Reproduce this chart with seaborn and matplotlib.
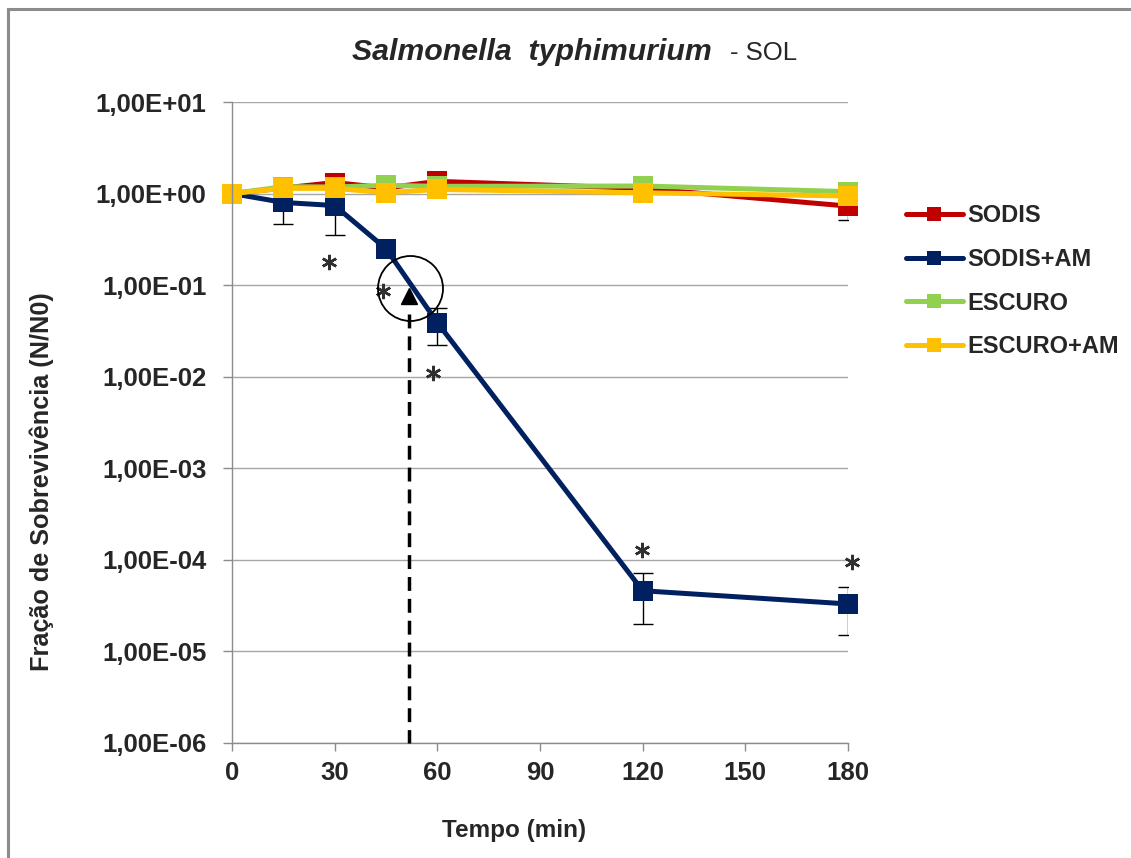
import numpy as np
import pandas as pd
import matplotlib
matplotlib.use("Agg")
import matplotlib.pyplot as plt
import seaborn as sns
from matplotlib.lines import Line2D
from matplotlib.patches import Rectangle
from matplotlib.ticker import FixedLocator, FixedFormatter, NullLocator

# ---------------- data ----------------
tempo = [0, 15, 30, 45, 60, 120, 180]
series = ["SODIS", "SODIS+AM", "ESCURO", "ESCURO+AM"]
sodis = [1.0, 1.15, 1.32, 1.15, 1.36, 1.14, 0.73]
sodis_err = [0, 0, 0, 0, 0, 0, 0.22]
sodis_am = [1.0, 0.80, 0.74, 0.25, 0.039, 4.6e-5, 3.3e-5]
sodis_am_err = [0, 0.33, 0.39, 0, 0.017, 2.6e-5, 1.8e-5]
escuro = [1.0, 1.19, 1.18, 1.23, 1.2, 1.21, 1.05]
escuro_am = [1.0, 1.14, 1.14, 1.02, 1.11, 1.02, 0.94]
colors = ["#C00000", "#002060", "#92D050", "#FFC000"]

ytick_vals = [1e1, 1e0, 1e-1, 1e-2, 1e-3, 1e-4, 1e-5, 1e-6]
ytick_labels = ["1,00E+01", "1,00E+00", "1,00E-01", "1,00E-02",
                "1,00E-03", "1,00E-04", "1,00E-05", "1,00E-06"]
xtick_vals = [0, 30, 60, 90, 120, 150, 180]

# significance asterisks
ast_x = [28.3, 44.1, 58.7, 119.8, 181.2]
ast_y = [0.177, 0.0853, 0.0109, 1.28e-4, 9.46e-5]
# highlighted point (triangle, circle, dashed drop line)
tri_x, tri_y = 51.8, 0.077
circ_x, circ_y = 52.0, 0.092
drop_x, drop_top = 51.8, 0.049

# ---------------- figure ----------------
sns.set_theme(style="white")
plt.rcParams["font.family"] = ["Liberation Sans", "DejaVu Sans"]

W, H = 1131, 858
fig = plt.figure(figsize=(W / 100, H / 100), dpi=100)
fig.patch.set_facecolor("white")
ax = fig.add_axes([232 / W, 1 - 743 / H, 616 / W, 641 / H])

vals = [sodis, sodis_am, escuro, escuro_am]
df = pd.DataFrame({
    "Tempo": np.tile(tempo, len(series)),
    "Valor": np.concatenate([np.asarray(v, float) for v in vals]),
    "Serie": np.repeat(series, len(tempo)),
})

# error bars (behind lines)
for v, e in [(sodis, sodis_err), (sodis_am, sodis_am_err)]:
    idx = [i for i, ee in enumerate(e) if ee > 0]
    ax.errorbar([tempo[i] for i in idx], [v[i] for i in idx],
                yerr=[e[i] for i in idx], fmt="none", ecolor="black",
                elinewidth=1.0, capsize=7, capthick=1.0, zorder=1.5)

sns.lineplot(data=df, x="Tempo", y="Valor", hue="Serie", hue_order=series,
             palette=colors, style="Serie", style_order=series,
             markers={s: "s" for s in series}, dashes=False,
             linewidth=3.6, markersize=15, markeredgewidth=0,
             legend=False, ax=ax, clip_on=False, zorder=2)

ax.set_yscale("log")
ax.set_ylim(1e-6, 1e1)
ax.set_xlim(0, 180)
ax.yaxis.set_major_locator(FixedLocator(ytick_vals))
ax.yaxis.set_major_formatter(FixedFormatter(ytick_labels))
ax.yaxis.set_minor_locator(NullLocator())
ax.set_xticks(xtick_vals)
ax.set_xticklabels([str(x) for x in xtick_vals])

ax.grid(axis="y", color="#A6A6A6", linewidth=1.0)
ax.grid(axis="x", visible=False)
ax.set_axisbelow(True)
for s in ["top", "right"]:
    ax.spines[s].set_visible(False)
for s in ["left", "bottom"]:
    ax.spines[s].set_color("#8C8C8C")
    ax.spines[s].set_linewidth(1.0)

ax.tick_params(axis="x", direction="out", length=6, width=1, color="#8C8C8C",
               labelsize=18.5, pad=7, bottom=True)
ax.tick_params(axis="y", direction="out", length=6.5, width=1, color="#8C8C8C",
               labelsize=18.5, pad=12, left=True)
for lab in ax.get_xticklabels() + ax.get_yticklabels():
    lab.set_fontweight("bold")
ax.set_xlabel("")
ax.set_ylabel("")

# annotations
ax.plot(ast_x, ast_y, ls="none", marker=(6, 2, 0), ms=11, mew=1.8,
        color="#303030", clip_on=False, zorder=4)
ax.plot([drop_x, drop_x], [drop_top, 1e-6], color="black", lw=2.5,
        ls=(0, (4, 2.3)), zorder=3, clip_on=False)
ax.plot([tri_x], [tri_y], marker="^", ms=11, color="black", ls="none", zorder=5)
ax.plot([circ_x], [circ_y], marker="o", ms=46.8, mfc="none", mec="black",
        mew=1.3, ls="none", zorder=5)

# axis titles
fig.text(514 / W, 1 - 830 / H, "Tempo (min)", ha="center", va="center",
         fontsize=17.5, fontweight="bold")
fig.text(42 / W, 1 - 482 / H, "Fração de Sobrevivência (N/N0)", ha="center",
         va="center", rotation=90, fontsize=18.2, fontweight="bold")

# title (two parts)
t1 = fig.text(352 / W, 1 - 52 / H, "Salmonella  typhimurium", ha="left",
              va="center", fontsize=21.8, fontweight="bold", fontstyle="italic")
renderer = fig.canvas.get_renderer()
bb = t1.get_window_extent(renderer=renderer)
fig.text((bb.x1 + 18) / W, 1 - 53 / H, "- SOL", ha="left", va="center",
         fontsize=18.5)

# legend
handles = [Line2D([0], [0], color=c, lw=3.6, marker="s", ms=10, mew=0)
           for c in colors]
fig.legend(handles, series, loc="upper left",
           bbox_to_anchor=(906 / W, 1 - 204 / H), frameon=False,
           prop={"size": 17, "weight": "bold"}, handlelength=2.4,
           handletextpad=0.2, labelspacing=0.88, borderpad=0,
           borderaxespad=0)

# chart border
fig.patches.append(Rectangle((8 / W, -0.5), 2, 1.5 - 9 / H,
                             transform=fig.transFigure, fill=False,
                             ec="#8C8C8C", lw=2.2))

fig.savefig("out.png", dpi=100, facecolor="white")
